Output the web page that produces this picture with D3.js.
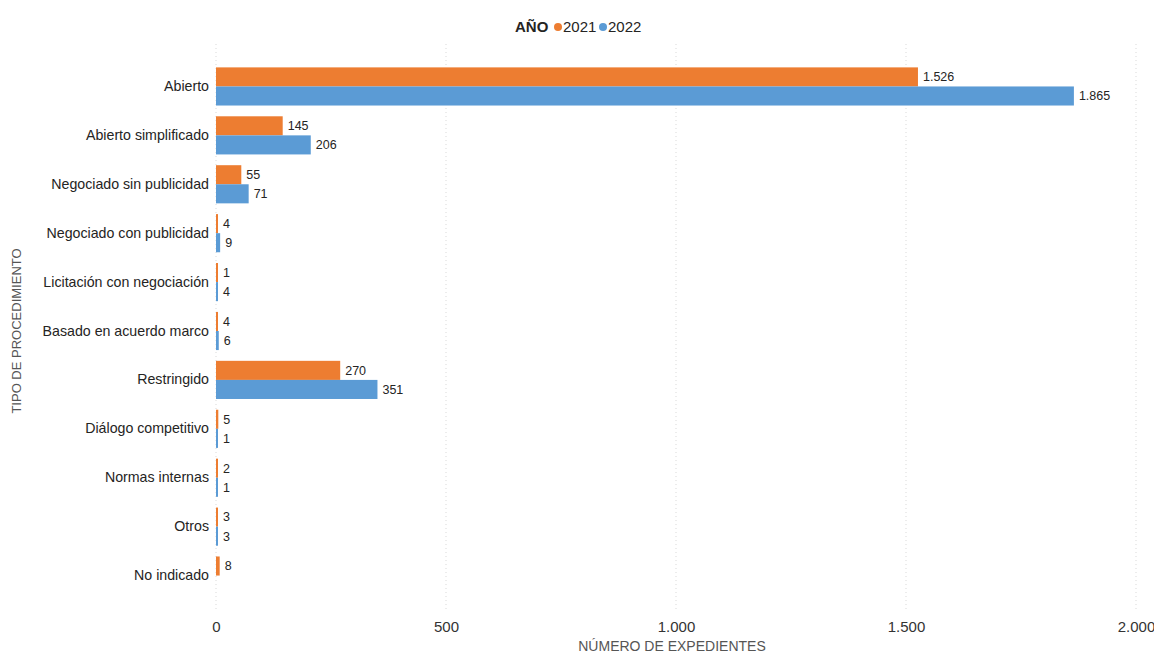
<!DOCTYPE html>
<html>
<head>
<meta charset="utf-8">
<script src="https://cdn.jsdelivr.net/npm/d3@7"></script>
<style>
  body { margin: 0; background: #fff; }
  text { font-family: "Liberation Sans", Arial, sans-serif; }
</style>
</head>
<body>
<div id="chart"></div>
<script>
const categories = [
    "Abierto", "Abierto simplificado", "Negociado sin publicidad",
    "Negociado con publicidad", "Licitación con negociación",
    "Basado en acuerdo marco", "Restringido", "Diálogo competitivo",
    "Normas internas", "Otros", "No indicado"
];
const years = ["2021", "2022"];
const values2021 = [1526, 145, 55, 4, 1, 4, 270, 5, 2, 3, 8];
const values2022 = [1865, 206, 71, 9, 4, 6, 351, 1, 1, 3, null];
const xTicks = [0, 500, 1000, 1500, 2000];
const colors = ["#ED7D31", "#5B9BD5"];

function groupedBarChart(config) {
    const { width, height, container } = config;
    const margin = { top: 62, left: 216 };

    const svg = d3.select(container)
        .append("svg")
        .attr("width", 1154)
        .attr("height", 653);

    const fmt = d3.formatLocale({ decimal: ",", thousands: ".", grouping: [3], currency: ["", "€"] }).format(",");

    const rows = categories.map((c, i) => ({
        name: c,
        vals: [values2021[i], values2022[i]]
    }));

    const xScale = d3.scaleLinear().domain([0, 2000]).range([0, width]);
    const yScale = d3.scaleBand().domain(categories).range([0, height]).paddingInner(0.22).paddingOuter(0.11);
    const ySub = d3.scaleBand().domain(years).range([0, yScale.bandwidth()]);

    const g = svg.append("g").attr("transform", `translate(${margin.left},${margin.top})`);

    // dotted gridlines
    g.append("g")
        .selectAll("line")
        .data(xTicks)
        .enter()
        .append("line")
        .attr("x1", d => xScale(d))
        .attr("x2", d => xScale(d))
        .attr("y1", -18)
        .attr("y2", height + 10)
        .attr("stroke", "#d9d9d9")
        .attr("stroke-dasharray", "1,3");

    // x axis tick labels
    g.append("g")
        .attr("transform", `translate(0,${height})`)
        .call(d3.axisBottom(xScale).tickValues(xTicks).tickFormat(fmt).tickSize(0).tickPadding(21))
        .call(a => a.select(".domain").remove())
        .selectAll("text")
        .attr("font-size", 15)
        .attr("fill", "#333")
        .style("font-family", "\"Liberation Sans\", Arial, sans-serif");

    // category labels
    g.append("g")
        .call(d3.axisLeft(yScale).tickSize(0).tickPadding(7))
        .call(a => a.select(".domain").remove())
        .selectAll("text")
        .attr("font-size", 14.2)
        .attr("fill", "#252423")
        .style("font-family", "\"Liberation Sans\", Arial, sans-serif");

    // bars
    const groups = g.selectAll(".grp")
        .data(rows)
        .enter()
        .append("g")
        .attr("transform", d => `translate(0,${yScale(d.name)})`);

    const items = groups.selectAll("g")
        .data(d => d.vals.map((v, j) => ({ year: years[j], v, j })).filter(e => e.v != null))
        .enter()
        .append("g");

    items.append("rect")
        .attr("x", 0)
        .attr("y", d => ySub(d.year))
        .attr("width", d => Math.max(2, xScale(d.v)))
        .attr("height", ySub.bandwidth())
        .attr("fill", d => colors[d.j]);

    items.append("text")
        .attr("x", d => Math.max(2, xScale(d.v)) + 5)
        .attr("y", d => ySub(d.year) + ySub.bandwidth() / 2)
        .attr("dy", "0.35em")
        .attr("font-size", 12.5)
        .attr("fill", "#252423")
        .text(d => fmt(d.v));

    // axis titles
    svg.append("text")
        .attr("x", margin.left + width / 2 - 4)
        .attr("y", 651)
        .attr("text-anchor", "middle")
        .attr("font-size", 14)
        .attr("fill", "#555")
        .text("NÚMERO DE EXPEDIENTES");

    svg.append("text")
        .attr("transform", "translate(21,331) rotate(-90)")
        .attr("text-anchor", "middle")
        .attr("font-size", 13)
        .attr("fill", "#555")
        .text("TIPO DE PROCEDIMIENTO");

    // legend
    const legend = svg.append("g").attr("transform", "translate(515,32)");
    legend.append("text")
        .attr("x", 0)
        .attr("font-size", 15)
        .attr("font-weight", "bold")
        .attr("fill", "#252423")
        .text("AÑO");
    const lx = [43, 88];
    years.forEach((y, i) => {
        legend.append("circle")
            .attr("cx", lx[i])
            .attr("cy", -5)
            .attr("r", 4)
            .attr("fill", colors[i]);
        legend.append("text")
            .attr("x", lx[i] + 5)
            .attr("font-size", 15)
            .attr("fill", "#252423")
            .text(y);
    });
}

groupedBarChart({ width: 920, height: 538, container: "#chart" });
</script>
</body>
</html>
